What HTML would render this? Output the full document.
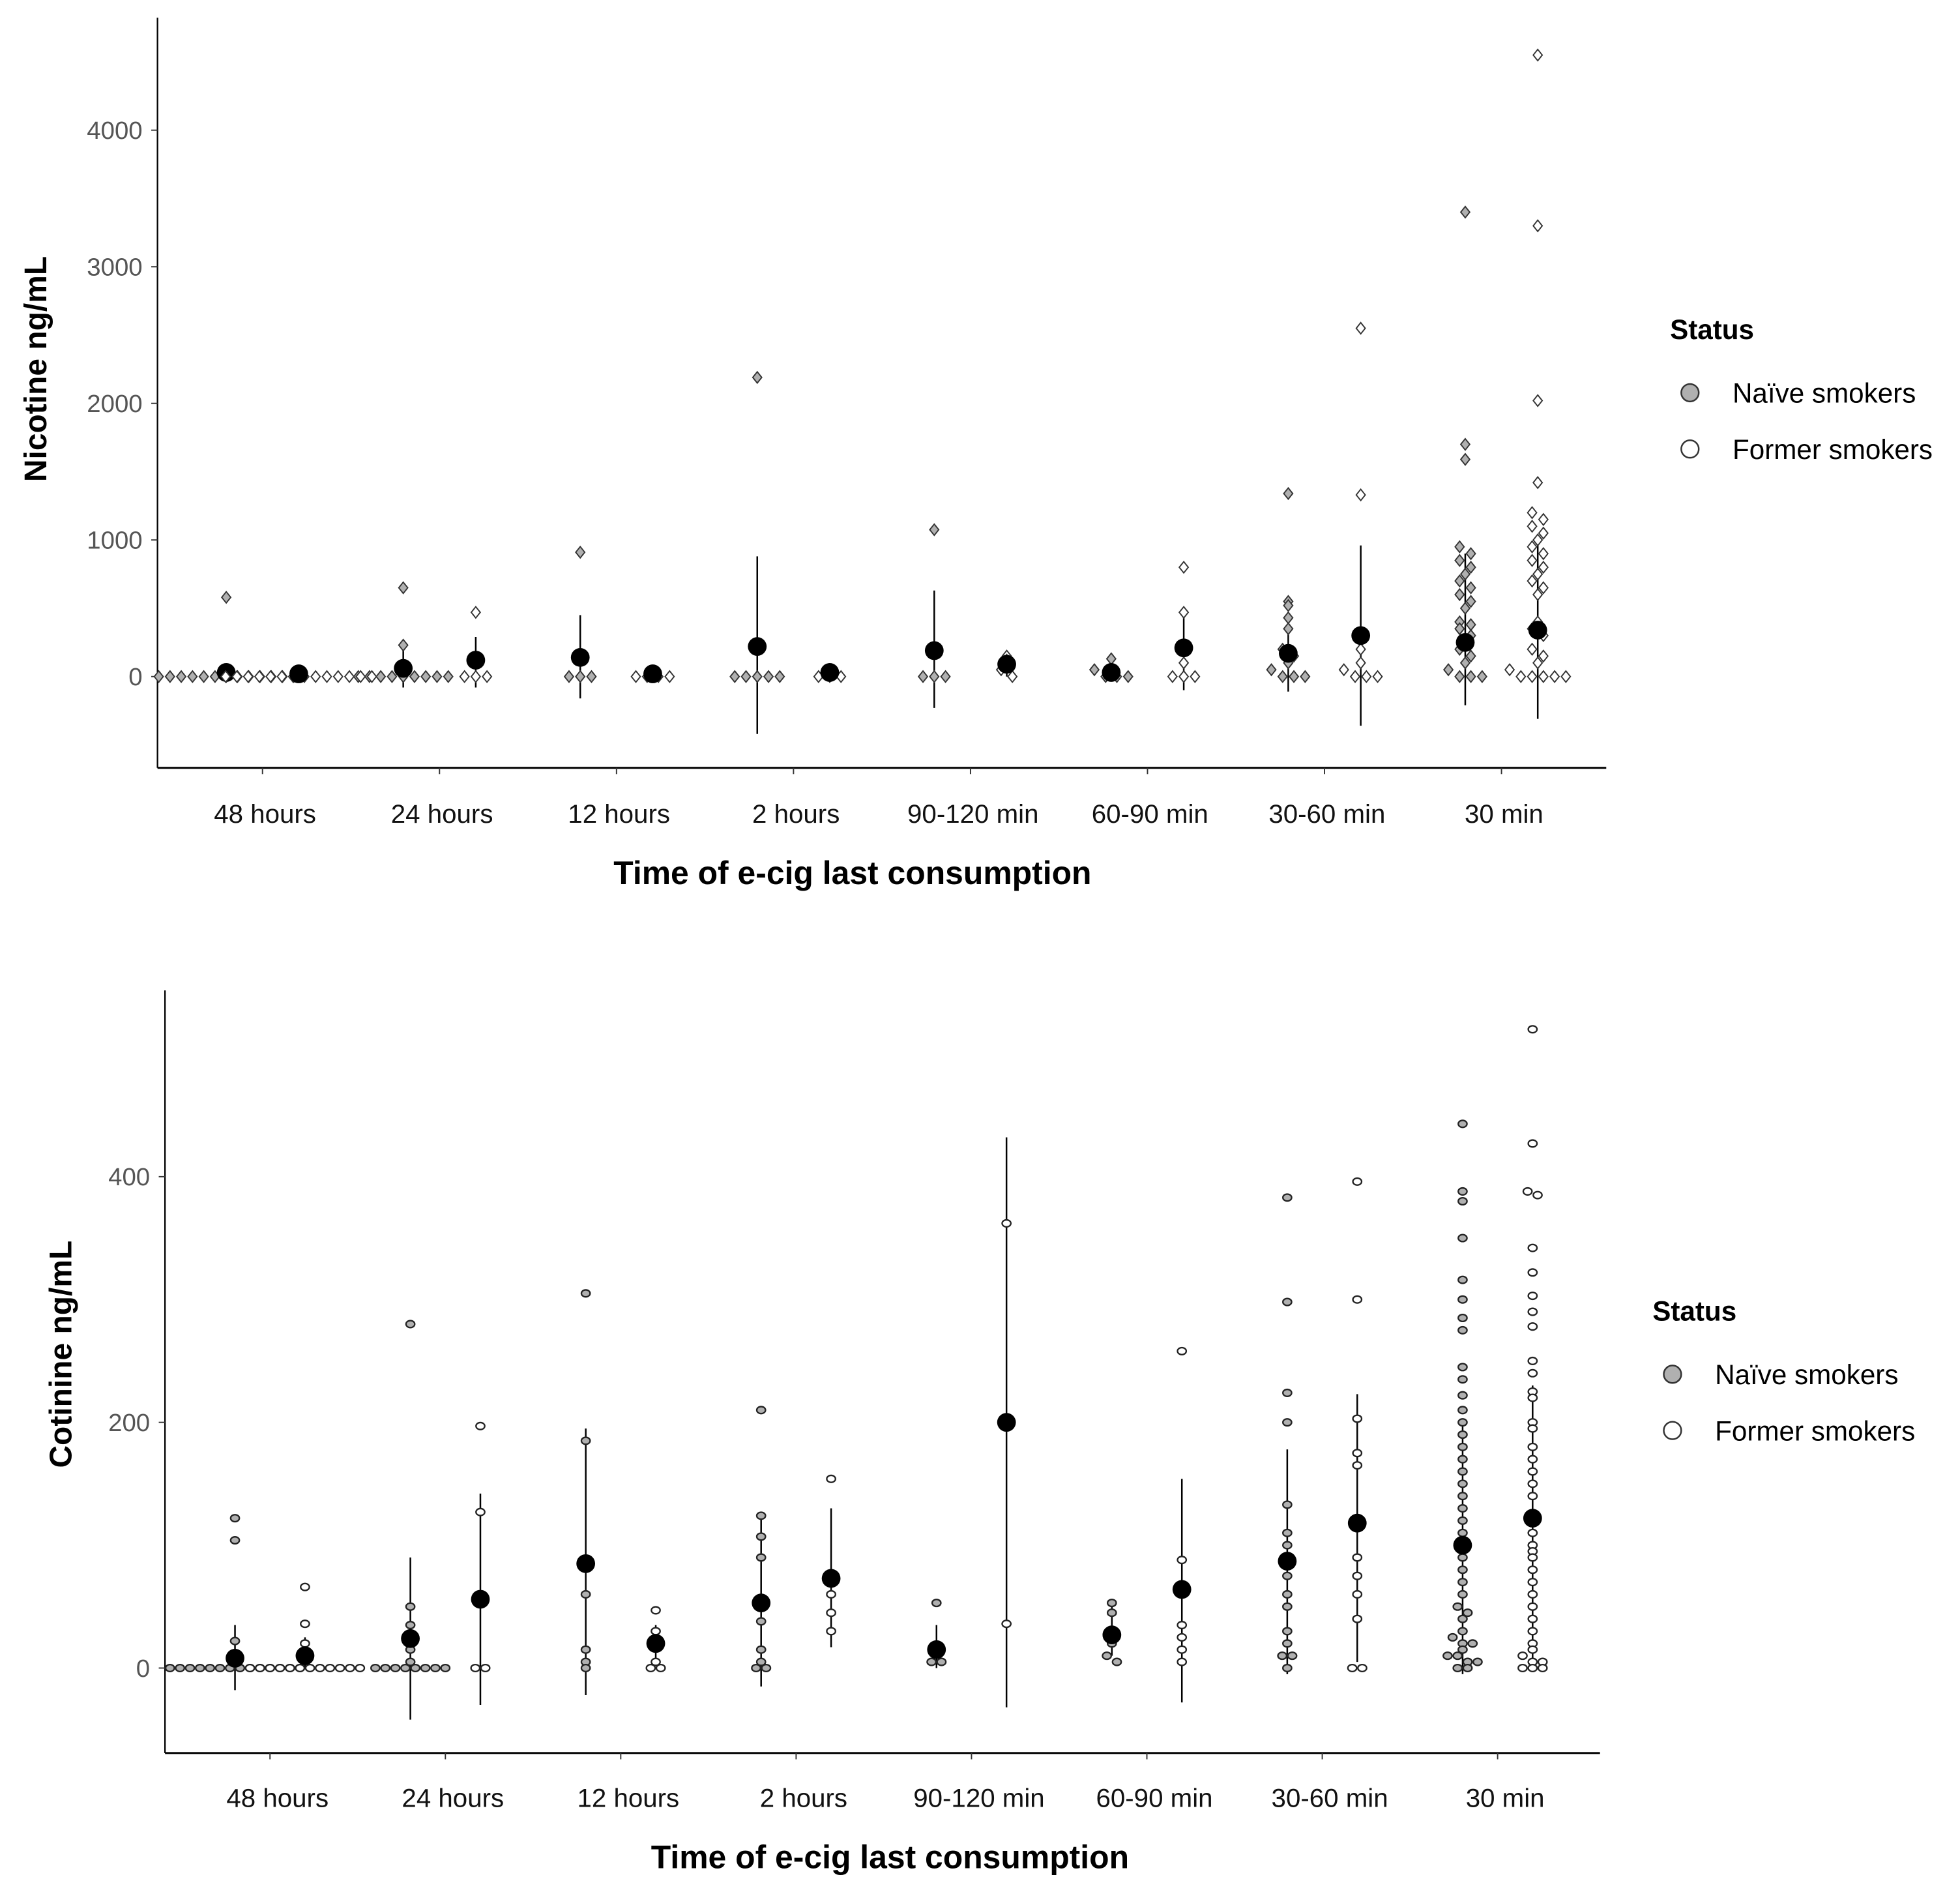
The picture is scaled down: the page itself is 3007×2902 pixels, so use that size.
<!DOCTYPE html>
<html><head><meta charset="utf-8"><style>
html,body{margin:0;padding:0;background:#fff}
svg{display:block}
text{font-family:"Liberation Sans",sans-serif}
</style></head><body>
<svg id="chart" width="3007" height="2902" viewBox="0 0 1568 1513" xmlns="http://www.w3.org/2000/svg">
<g id="top"></g>
<g id="bot"></g>
</svg>
<script>
const categories=["48 hours","24 hours","12 hours","2 hours","90-120 min","60-90 min","30-60 min","30 min"];
const nicTicks=[0,1000,2000,3000,4000];
const cotTicks=[0,200,400];
const nicNaiveMean=[30,60,140,220,190,30,170,250];
const nicNaiveLo=[-30,-80,-160,-420,-230,0,-110,-210];
const nicNaiveHi=[70,200,450,880,630,60,450,900];
const nicFormerMean=[20,120,20,30,90,210,300,340];
const nicFormerLo=[-10,-80,0,0,0,-100,-360,-310];
const nicFormerHi=[40,290,40,60,170,480,960,1000];
const nicNaivePts=[
[580,0,0,0,0,0,0,0,0,0,0,0,0,0],
[650,230,0,0,0,0,0,0,0,0,0],
[910,0,0,0],
[2190,0,0,0,0,0],
[1075,0,0,0],
[130,50,0,0,0],
[1340,550,520,430,350,200,150,100,50,0,0,0],
[3400,1700,1590,950,900,850,800,750,700,650,600,550,500,400,380,350,300,250,200,150,100,50,0,0,0]];
const nicFormerPts=[
[0,0,0,0,0,0,0,0,0,0,0,0,0,0],
[470,0,0,0],
[0,0,0,0],
[0,0,0],
[150,120,50,0],
[800,470,200,100,0,0,0],
[2550,1330,200,100,50,0,0,0],
[4550,3300,2020,1420,1200,1150,1100,1050,1000,950,900,850,800,750,700,650,600,400,350,300,200,150,100,50,0,0,0,0,0]];
const cotNaiveMean=[8,24,85,53,15,27,87,100];
const cotNaiveLo=[-18,-42,-22,-15,0,10,-5,-5];
const cotNaiveHi=[35,90,195,125,35,50,178,200];
const cotFormerMean=[10,56,20,73,200,64,118,122];
const cotFormerLo=[0,-30,5,17,-32,-28,5,0];
const cotFormerHi=[25,142,35,130,432,154,223,230];
const cotNaivePts=[
[122,104,22,10,0,0,0,0,0,0,0,0,0,0,0,0,0,0],
[280,50,35,15,5,0,0,0,0,0,0,0,0],
[305,185,60,15,5,0],
[210,124,107,90,55,38,15,5,0,0],
[53,15,5,5],
[53,45,30,20,10,5],
[383,298,224,200,133,110,100,90,75,60,50,30,20,10,10,0],
[443,388,380,350,316,300,285,275,245,235,222,210,200,190,180,170,160,150,140,130,120,110,100,90,80,70,60,50,45,40,30,25,20,20,15,10,10,5,5,0,0]];
const cotFormerPts=[
[66,36,20,10,0,0,0,0,0,0,0,0,0,0,0,0],
[197,127,0,0],
[47,30,20,5,0,0],
[154,60,45,30],
[362,36],
[258,88,35,25,15,5],
[396,300,203,175,165,120,90,75,60,40,0,0],
[520,427,388,385,342,322,303,290,278,250,240,225,220,200,195,180,170,160,150,140,125,110,100,95,90,80,70,60,50,40,30,20,15,10,5,5,0,0,0]];

const NS="http://www.w3.org/2000/svg";
function mk(parent,tag,attrs){const e=document.createElementNS(NS,tag);for(const k in attrs)e.setAttribute(k,attrs[k]);parent.appendChild(e);return e;}

function panel(g,cfg){
  const yS=v=>cfg.y0-v*cfg.ppu;
  const xC=i=>cfg.x0+i*cfg.step;
  let ax=mk(g,'line',{x1:cfg.axX,y1:cfg.top,x2:cfg.axX,y2:cfg.axY,stroke:'#000','stroke-width':1.2});
  
  let bx=mk(g,'line',{x1:cfg.axX,y1:cfg.axY,x2:cfg.right,y2:cfg.axY,stroke:'#000','stroke-width':1.6});
  
  cfg.ticks.forEach(t=>{
    mk(g,'line',{x1:cfg.axX-5,y1:yS(t),x2:cfg.axX,y2:yS(t),stroke:'#333','stroke-width':1});
    let tx=mk(g,'text',{x:cfg.axX-12,y:yS(t)+7,'text-anchor':'end','font-size':20,fill:'#555'});
    tx.textContent=t;
    
  });
  categories.forEach((c,i)=>{
    mk(g,'line',{x1:xC(i),y1:cfg.axY,x2:xC(i),y2:cfg.axY+5,stroke:'#333','stroke-width':1});
    let tx=mk(g,'text',{x:xC(i)+cfg.lblOff,y:cfg.lblY,'text-anchor':'middle','font-size':21,fill:'#111'});
    tx.textContent=c;
    
  });
  let xt=mk(g,'text',{x:cfg.xtX,y:cfg.xtY,'text-anchor':'middle','font-size':26,'font-weight':'bold',fill:'#000'});
  xt.textContent='Time of e-cig last consumption';
  
  let yt=mk(g,'text',{x:0,y:0,'text-anchor':'middle','font-size':25,'font-weight':'bold',fill:'#000',transform:`translate(${cfg.ytX},${cfg.ytY}) rotate(-90)`});
  yt.textContent=cfg.ytitle;
  
  const groups=[[cfg.nPts,cfg.nMean,cfg.nLo,cfg.nHi,-cfg.dodge,'#b0b0b0','naive'],[cfg.fPts,cfg.fMean,cfg.fLo,cfg.fHi,cfg.dodge,'#fff','former']];
  groups.forEach(([pts,mean,lo,hi,off,fill,nm])=>{
    categories.forEach((c,i)=>{
      const cx=xC(i)+off;
      let eb=mk(g,'line',{x1:cx,y1:yS(lo[i]),x2:cx,y2:yS(hi[i]),stroke:'#000','stroke-width':1.3});
      
      const bins={};
      pts[i].forEach(v=>{const b=Math.round(yS(v)/cfg.ms);(bins[b]=bins[b]||[]).push(v);});
      Object.values(bins).forEach(arr=>{
        arr.forEach((v,k)=>{
          const px=cx+(k-(arr.length-1)/2)*cfg.ms;const py=yS(v);
          let p;
          if(cfg.diamond){const r=cfg.ms/2;p=mk(g,'path',{d:`M${px},${py-r}L${px+r*0.8},${py}L${px},${py+r}L${px-r*0.8},${py}Z`,fill:fill,stroke:'#333','stroke-width':1});}
          else p=mk(g,'ellipse',{cx:px,cy:py,rx:cfg.ms/2-0.5,ry:cfg.ms/2-1.2,fill:fill,stroke:'#222','stroke-width':1.2});
          
        });
      });
      let m=mk(g,'circle',{cx:cx,cy:yS(mean[i]),r:7.5,fill:'#000'});
      
    });
  });
  let st=mk(g,'text',{x:cfg.lgX,y:cfg.lgY,'font-size':22,'font-weight':'bold',fill:'#000'});
  st.textContent='Status';
  [['Naïve smokers','#b0b0b0'],['Former smokers','#fff']].forEach(([t,f],k)=>{
    const y=cfg.lgY+43+k*45;
    let c=mk(g,'circle',{cx:cfg.lgX+16,cy:y,r:7,fill:f,stroke:'#333','stroke-width':1.3});
    
    let tx=mk(g,'text',{x:cfg.lgX+50,y:y+8,'font-size':22,fill:'#000'});
    tx.textContent=t;
  });
}
panel(document.getElementById('top'),{y0:541,ppu:0.10925,x0:210,step:141.6,dodge:29,axX:126,axY:614,top:14,right:1285,
 ticks:nicTicks,lblY:658,lblOff:2,xtX:682,xtY:707,ytX:37,ytY:295,ytitle:'Nicotine ng/mL',ms:9,diamond:true,
 nPts:nicNaivePts,nMean:nicNaiveMean,nLo:nicNaiveLo,nHi:nicNaiveHi,fPts:nicFormerPts,fMean:nicFormerMean,fLo:nicFormerLo,fHi:nicFormerHi,lgX:1336,lgY:271});
panel(document.getElementById('bot'),{y0:1334,ppu:0.9825,x0:216,step:140.3,dodge:28,axX:132,axY:1402,top:792,right:1280,
 ticks:cotTicks,lblY:1445,lblOff:6,xtX:712,xtY:1494,ytX:57,ytY:1083,ytitle:'Cotinine ng/mL',ms:8,diamond:false,
 nPts:cotNaivePts,nMean:cotNaiveMean,nLo:cotNaiveLo,nHi:cotNaiveHi,fPts:cotFormerPts,fMean:cotFormerMean,fLo:cotFormerLo,fHi:cotFormerHi,lgX:1322,lgY:1056});
</script>
</body></html>
